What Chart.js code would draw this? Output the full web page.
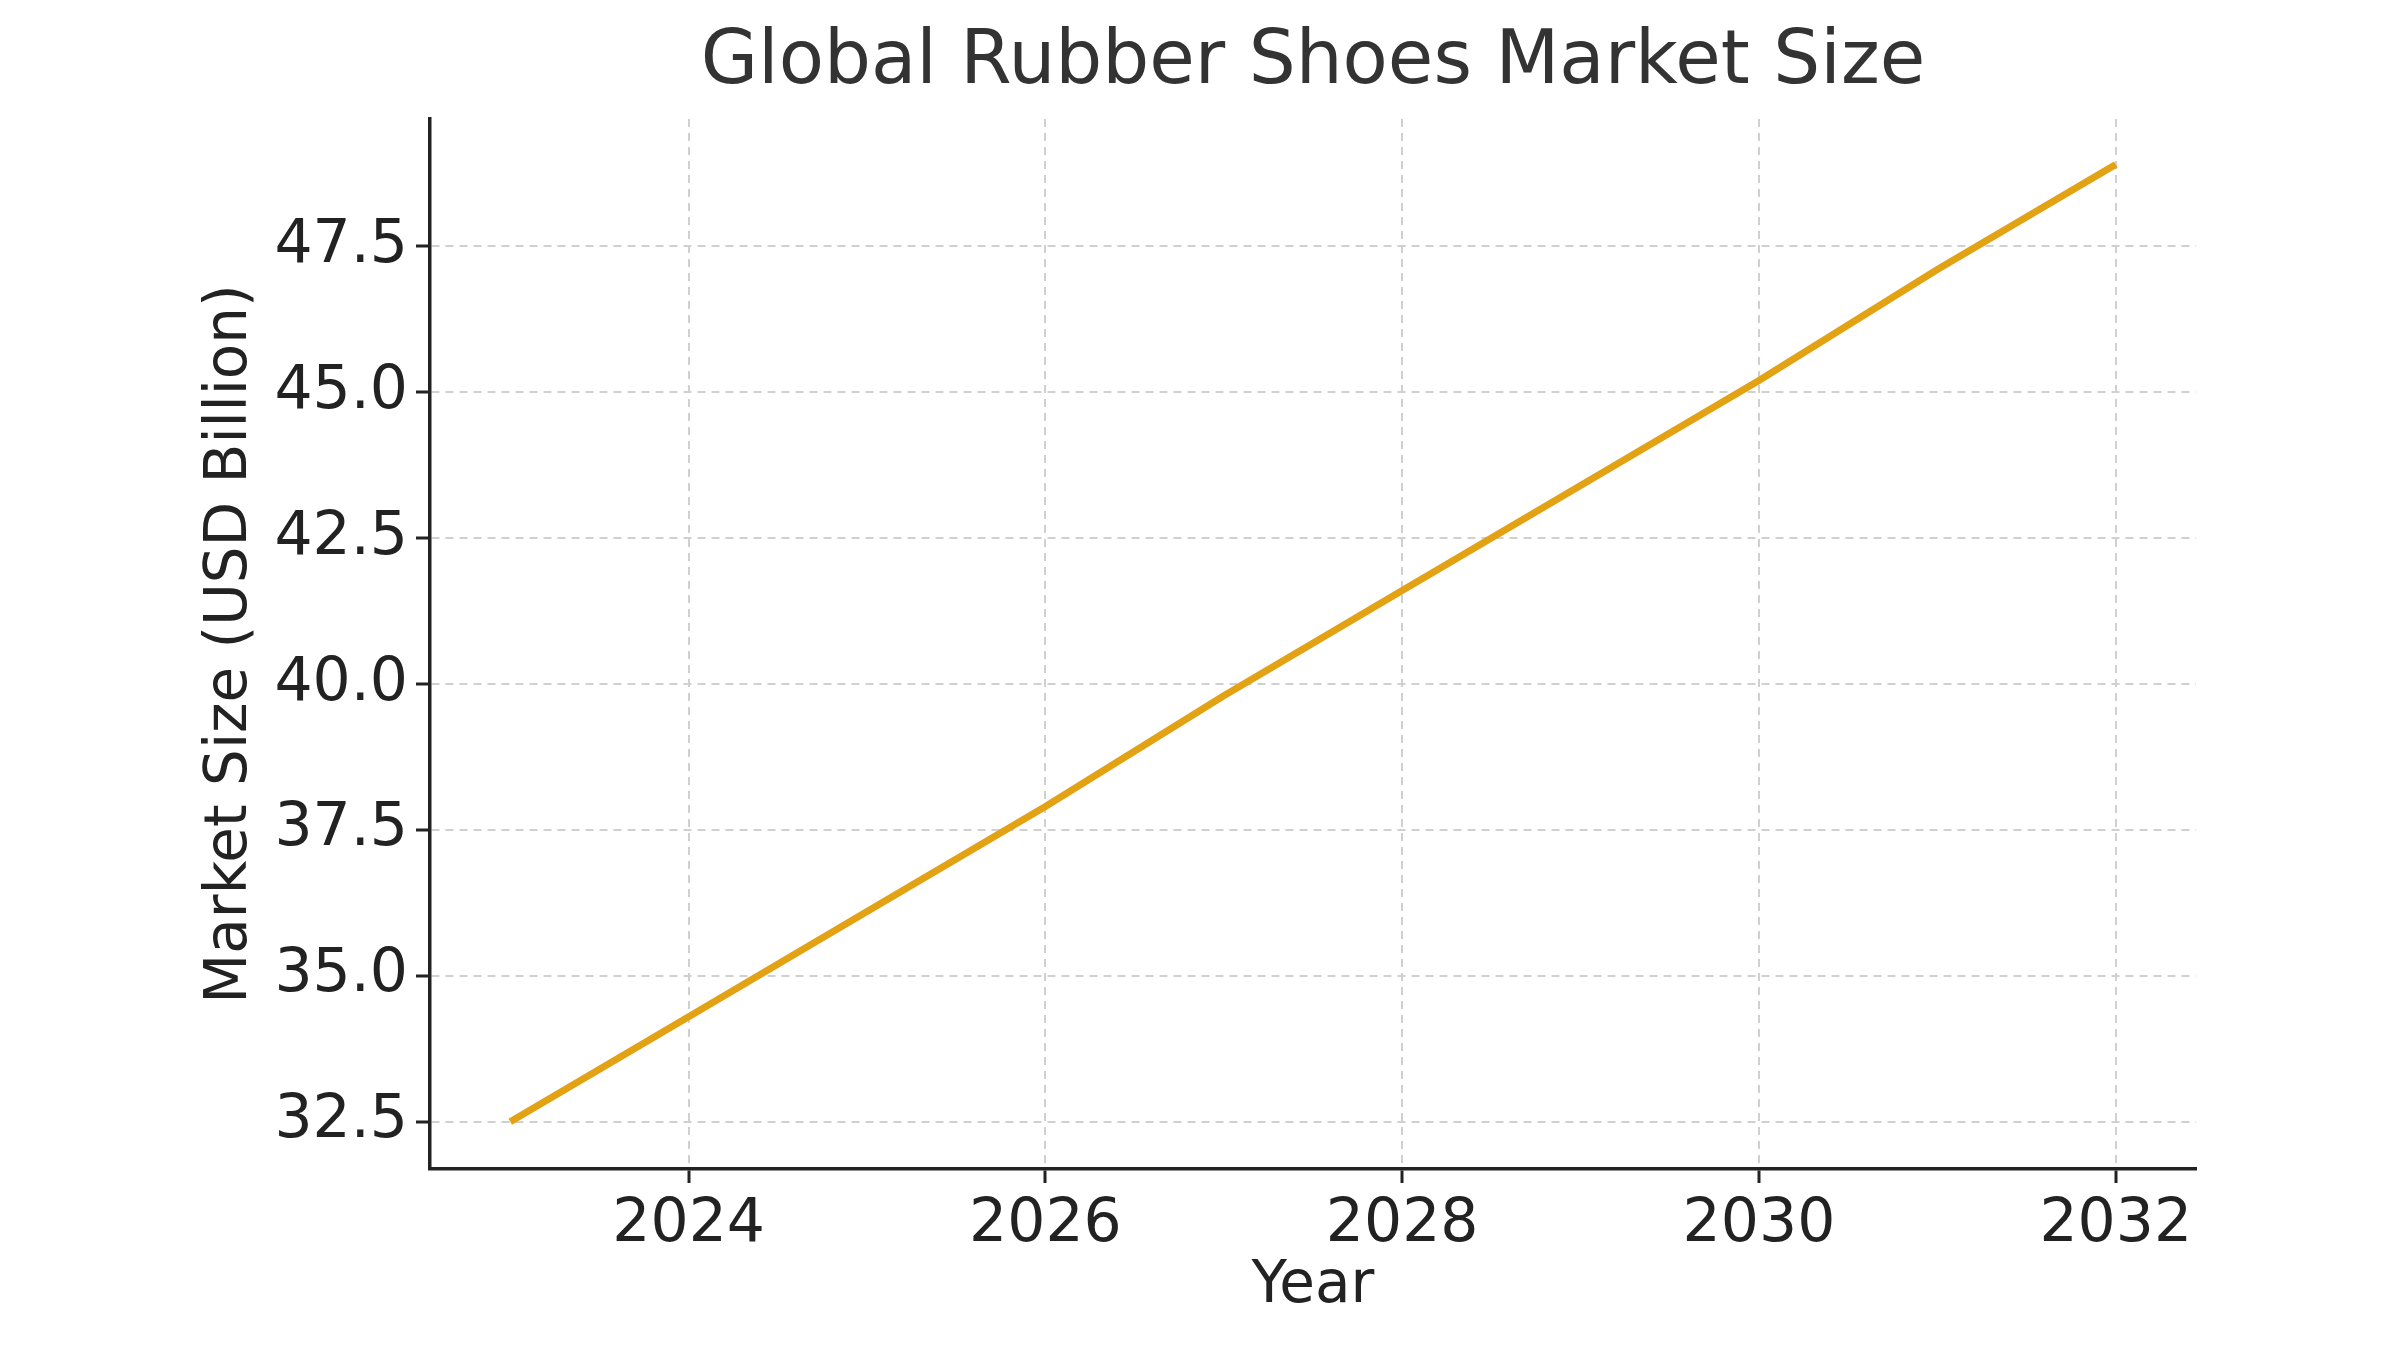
<!DOCTYPE html>
<html><head><meta charset="utf-8">
<script src="https://cdn.jsdelivr.net/npm/chart.js@4"></script>
<style>body{margin:0;background:#fff}</style></head>
<body><canvas id="c" width="2400" height="1350"></canvas>
<script>
const years = [2023,2024,2025,2026,2027,2028,2029,2030,2031,2032];
const marketSize = [32.5,34.3,36.1,37.9,39.8,41.6,43.4,45.2,47.1,48.9];
const xTicks = [2024,2026,2028,2030,2032];
const yTicks = [32.5,35.0,37.5,40.0,42.5,45.0,47.5];
const titleText = 'Global Rubber Shoes Market Size';
const FONT = 'DejaVu Sans';
const titlePlugin = {id:'t', afterDraw(ch){const c=ch.ctx,a=ch.chartArea;c.save();c.font='74px "'+FONT+'"';c.fillStyle='#333';c.textAlign='center';c.textBaseline='middle';c.fillText(titleText,(a.left+a.right)/2,64);c.restore();}};
new Chart(document.getElementById('c'),{
 type:'line',
 data:{datasets:[{data:years.map((y,i)=>({x:y,y:marketSize[i]})),borderColor:'#E2A213',borderWidth:7,pointRadius:0,fill:false,tension:0}]},
 options:{responsive:false,animation:false,
  layout:{padding:{top:119,right:204,left:196,bottom:28}},
  plugins:{legend:{display:false},tooltip:{enabled:false}},
  scales:{
   x:{type:'linear',min:2022.55,max:2032.45,
    afterBuildTicks:s=>{s.ticks=xTicks.map(v=>({value:v}));},
    afterFit:s=>{s.height=153;},
    border:{color:'#222',width:3.5,dash:[8,6]},
    grid:{color:'#d0d0d0',lineWidth:2,tickLength:14,tickColor:'#222',tickWidth:3},
    ticks:{color:'#222',font:{family:FONT,size:60},padding:6,callback:v=>String(v)},
    title:{display:true,text:'Year',color:'#222',font:{family:FONT,size:58},padding:{top:0,bottom:0}}
   },
   y:{min:31.69,max:49.68,
    afterBuildTicks:s=>{s.ticks=yTicks.map(v=>({value:v}));},
    afterFit:s=>{s.width=234;},
    border:{color:'#222',width:3.5,dash:[8,6]},
    grid:{color:'#d0d0d0',lineWidth:2,tickLength:14,tickColor:'#222',tickWidth:3},
    ticks:{color:'#222',font:{family:FONT,size:60},padding:8,callback:v=>v.toFixed(1)},
    title:{display:true,text:'Market Size (USD Billion)',color:'#222',font:{family:FONT,size:58},padding:{top:0,bottom:0}}
   }
  }},
 plugins:[titlePlugin]
});
</script></body></html>
